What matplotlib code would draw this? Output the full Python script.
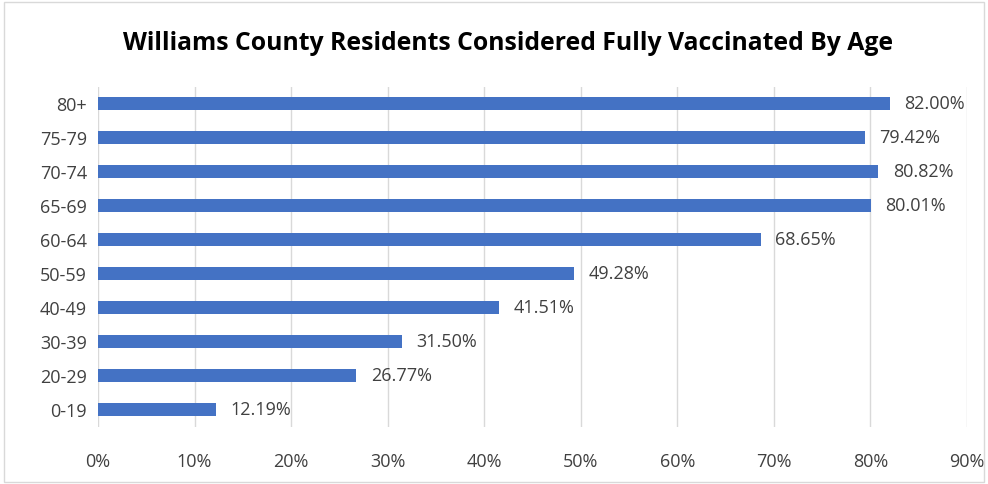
import matplotlib.pyplot as plt
import matplotlib.patches as patches
from matplotlib.ticker import PercentFormatter

ages = ['0-19', '20-29', '30-39', '40-49', '50-59', '60-64', '65-69', '70-74', '75-79', '80+']
pct = [12.19, 26.77, 31.50, 41.51, 49.28, 68.65, 80.01, 80.82, 79.42, 82.00]
ticks = [0, 10, 20, 30, 40, 50, 60, 70, 80, 90]

plt.rcParams['font.family'] = ['Open Sans', 'DejaVu Sans']

fig = plt.figure(figsize=(9.88, 4.85), dpi=100)
ax = fig.add_axes([0.0992, 0.1175, 0.8795, 0.7011])

# chart border
fig.patches.append(patches.Rectangle((0.004, 0.004), 0.992, 0.99, transform=fig.transFigure,
                                     fill=False, edgecolor='#d9d9d9', linewidth=1))

ax.barh(range(len(ages)), pct, height=0.38, color='#4472C4', zorder=3)
for i, v in enumerate(pct):
    ax.text(v + 1.5, i, '%.2f%%' % v, va='center', ha='left', fontsize=13, color='#404040')

ax.set_xlim(0, 90)
ax.set_ylim(-0.52, 9.48)
ax.set_xticks(ticks)
ax.xaxis.set_major_formatter(PercentFormatter(decimals=0))
ax.set_yticks(range(len(ages)))
ax.set_yticklabels(ages)
ax.tick_params(axis='both', length=0, labelsize=13, colors='#404040')
ax.tick_params(axis='x', pad=18)
ax.tick_params(axis='y', pad=8)
ax.grid(axis='x', color='#d9d9d9', linewidth=1, zorder=0)
for s in ax.spines.values():
    s.set_visible(False)

fig.text(0.514, 0.911, 'Williams County Residents Considered Fully Vaccinated By Age',
         ha='center', va='center', fontsize=17.8, fontweight='bold', color='#000000')

fig.savefig('out.png', dpi=100)
